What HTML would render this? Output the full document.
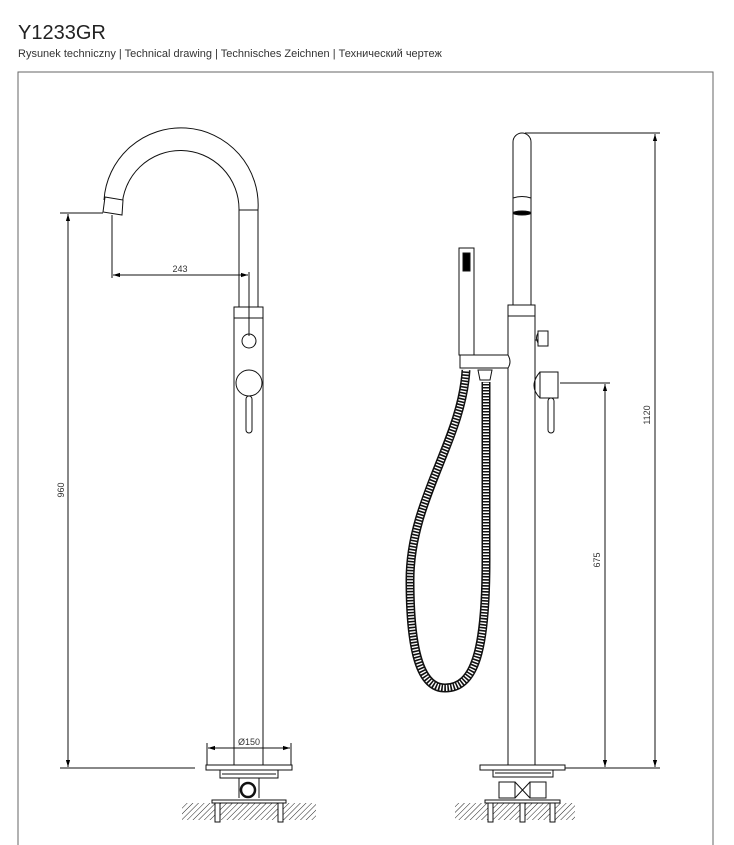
<!DOCTYPE html>
<html><head><meta charset="utf-8"><style>
html,body{margin:0;padding:0;background:#fff;width:734px;height:845px;overflow:hidden}
.t{position:absolute;left:18px;top:22px;font:20px "Liberation Sans",sans-serif;color:#222}
.s{position:absolute;left:18px;top:48px;font:11px "Liberation Sans",sans-serif;color:#333}
svg{position:absolute;left:0;top:0}
</style></head><body>
<div class="t">Y1233GR</div>
<div class="s">Rysunek techniczny | Technical drawing | Technisches Zeichnen | Технический чертеж</div>
<svg width="734" height="845" viewBox="0 0 734 845">
<defs>
<pattern id="h" width="4" height="4" patternUnits="userSpaceOnUse" patternTransform="rotate(45)">
<line x1="0" y1="0" x2="0" y2="4" stroke="#222" stroke-width="1"/></pattern>
<marker id="a" viewBox="0 0 10 10" refX="10" refY="5" markerWidth="7" markerHeight="7" orient="auto-start-reverse"><path d="M0,2L10,5L0,8z" fill="#000"/></marker>
</defs>
<path d="M18,845V72H713V845" fill="none" stroke="#666" stroke-width="1"/>
<g fill="none" stroke="#111" stroke-width="1">
<!-- left faucet -->
<path d="M104,200 A77,77 0 0 1 258,210 V307"/>
<path d="M122,208 A58,58 0 0 1 239,210 V307"/>
<line x1="239" y1="210" x2="258" y2="210"/>
<path d="M105,197 L123,200 L122,215 L103,212 Z" fill="#fff"/>
<rect x="234" y="307" width="29" height="11"/>
<path d="M234,318V766M263,318V766"/>
<circle cx="249" cy="341" r="7"/>
<circle cx="249" cy="383" r="13"/>
<rect x="246" y="396" width="6" height="37" rx="3"/>
<!-- 243 dim -->
<line x1="112" y1="215" x2="112" y2="278"/>
<line x1="249" y1="272" x2="249" y2="336"/>
<line x1="113" y1="275" x2="248" y2="275" marker-start="url(#a)" marker-end="url(#a)"/>
<!-- 960 -->
<line x1="60" y1="213" x2="103" y2="213"/>
<line x1="60" y1="768" x2="195" y2="768"/>
<line x1="68" y1="214" x2="68" y2="767" marker-start="url(#a)" marker-end="url(#a)"/>
<!-- left base -->
<line x1="207" y1="743" x2="207" y2="765"/><line x1="291" y1="743" x2="291" y2="765"/>
<line x1="208" y1="748" x2="290" y2="748" marker-start="url(#a)" marker-end="url(#a)"/>
<rect x="206" y="765" width="86" height="5" fill="#fff"/>
<rect x="220" y="770" width="58" height="8" fill="#fff"/>
<line x1="222" y1="774" x2="276" y2="774"/>
<rect x="182" y="803" width="134" height="17" fill="url(#h)" stroke="none"/>
<path d="M239,778V798M259,778V798"/>
<circle cx="248" cy="790" r="7" stroke-width="2.5"/>
<rect x="212" y="800" width="74" height="3" fill="#fff"/>
<rect x="215" y="803" width="5" height="19" fill="#fff"/>
<rect x="278" y="803" width="5" height="19" fill="#fff"/>
<!-- right faucet -->
<path d="M513,305V142A9,9 0 0 1 531,142V305"/>
<path d="M513,198Q522,195 531,198"/>
<ellipse cx="522" cy="213" rx="9" ry="2" fill="#000"/>
<rect x="508" y="305" width="27" height="11"/>
<path d="M508,316V766M535,316V766"/>
<path d="M535,340H538M538,331h10v15h-10zM538,333q-3,5 0,10"/>
<path d="M540,372h18v26h-18zM540,372q-12,14 0,26"/>
<rect x="548" y="398" width="6" height="35" rx="3"/>
<rect x="459" y="248" width="15" height="107"/>
<rect x="463" y="253" width="7" height="18" fill="#000"/>
<path d="M460,355H508Q512,362 508,368H460Z" fill="#fff"/>
</g>
<path d="M466,370 C462,440 410,500 410,580 C410,650 420,688 445,688 C475,688 486,650 486,560 L486,382" fill="none" stroke="#111" stroke-width="9"/>
<path d="M466,370 C462,440 410,500 410,580 C410,650 420,688 445,688 C475,688 486,650 486,560 L486,382" fill="none" stroke="#fff" stroke-width="6" stroke-dasharray="1.4 1.6"/>
<g fill="none" stroke="#111" stroke-width="1">
<path d="M478,370h14l-2,10h-10z" fill="#fff"/>
<!-- 1120 -->
<line x1="525" y1="133" x2="660" y2="133"/>
<line x1="560" y1="768" x2="660" y2="768"/>
<line x1="655" y1="134" x2="655" y2="767" marker-start="url(#a)" marker-end="url(#a)"/>
<!-- 675 -->
<line x1="560" y1="383" x2="610" y2="383"/>
<line x1="605" y1="384" x2="605" y2="767" marker-start="url(#a)" marker-end="url(#a)"/>
<!-- right base -->
<rect x="480" y="765" width="85" height="5" fill="#fff"/>
<rect x="493" y="770" width="60" height="7" fill="#fff"/>
<line x1="495" y1="773" x2="551" y2="773"/>
<rect x="455" y="803" width="120" height="17" fill="url(#h)" stroke="none"/>
<rect x="499" y="782" width="16" height="16" fill="#fff"/>
<rect x="530" y="782" width="16" height="16" fill="#fff"/>
<path d="M515,782L530,798M530,782L515,798"/>
<rect x="485" y="800" width="75" height="3" fill="#fff"/>
<rect x="488" y="803" width="5" height="19" fill="#fff"/>
<rect x="520" y="803" width="5" height="19" fill="#fff"/>
<rect x="550" y="803" width="5" height="19" fill="#fff"/>
</g>
<g font-family="Liberation Sans,sans-serif" font-size="9" fill="#333">
<text x="180" y="272" text-anchor="middle">243</text>
<text x="249" y="745" text-anchor="middle">Ø150</text>
<text transform="translate(64,490) rotate(-90)" text-anchor="middle">960</text>
<text transform="translate(650,415) rotate(-90)" text-anchor="middle">1120</text>
<text transform="translate(600,560) rotate(-90)" text-anchor="middle">675</text>
</g>
</svg>
</body></html>
